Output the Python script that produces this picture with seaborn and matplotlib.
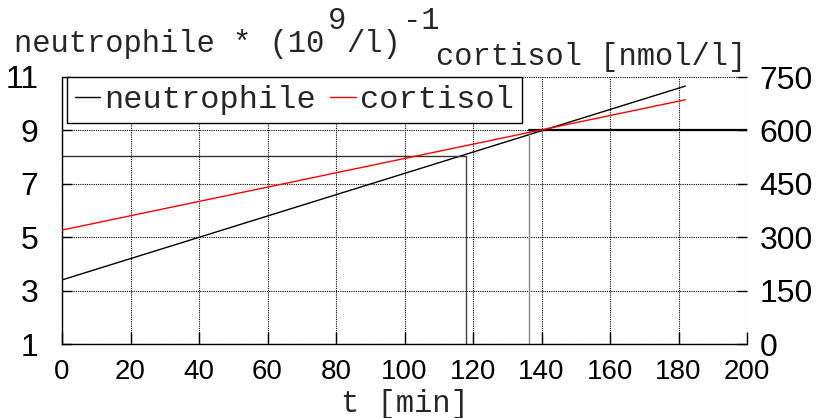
import matplotlib
matplotlib.use("Agg")
import matplotlib.pyplot as plt
import seaborn as sns
import pandas as pd

# --- data -------------------------------------------------------------
t_min = [0, 182]                 # time [min]
neutrophile = [3.4, 10.66]       # neutrophile * (10^9/l)^-1
cortisol = [320, 686]            # cortisol [nmol/l]

x_ticks = [0, 20, 40, 60, 80, 100, 120, 140, 160, 180, 200]
left_ticks = [1, 3, 5, 7, 9, 11]
right_ticks = [0, 150, 300, 450, 600, 750]

# reading lines
read1_t, read1_n = 117.9, 8.05     # neutrophile read-off
read2_t, read2_n = 136.4, 9.0      # cortisol read-off (600 nmol/l)

df = pd.DataFrame({"t": t_min, "neutrophile": neutrophile, "cortisol": cortisol})

sns.set_style("white")
plt.rcParams["font.family"] = ["Liberation Mono", "DejaVu Sans Mono"]

W, H = 817, 418
fig = plt.figure(figsize=(W / 100, H / 100), dpi=100)
ax = fig.add_axes([62 / W, (H - 344) / H, 685 / W, 267 / H])
ax2 = ax.twinx()

grid_kw = dict(color="black", lw=0.8, ls=(0, (1, 1)))
ax.set_xlim(0, 200)
ax.set_ylim(1, 11)
ax2.set_ylim(0, 750)
ax.set_xticks(x_ticks)
ax.set_yticks(left_ticks)
ax2.set_yticks(right_ticks)
ax.grid(True, **grid_kw)
ax2.grid(False)

sns.lineplot(data=df, x="t", y="neutrophile", ax=ax, color="black", lw=1.0,
             label="neutrophile", legend=False)
sns.lineplot(data=df, x="t", y="cortisol", ax=ax2, color="red", lw=1.0,
             label="cortisol", legend=False)

# read-off lines
ax.plot([0, read1_t], [read1_n, read1_n], color="#333333", lw=1.0)
ax.plot([read1_t, read1_t], [1, read1_n], color="#444444", lw=1.0)
ax.plot([read2_t, read2_t], [1, read2_n], color="#888888", lw=1.0)
ax.plot([read2_t, 200], [read2_n, read2_n], color="black", lw=1.6)

for a in (ax, ax2):
    for s in ("top", "right", "left", "bottom"):
        a.spines[s].set_visible(False)
for s in ("left", "bottom"):
    ax.spines[s].set_visible(True)
    ax.spines[s].set_color("black")
    ax.spines[s].set_linewidth(1.0)

ax.set_xlabel("t [min]", fontsize=22, labelpad=3)
ax.set_ylabel("")
ax2.set_ylabel("")

ax.tick_params(axis="x", direction="in", length=9, width=1, pad=11,
               bottom=True, colors="black")
ax.tick_params(axis="y", direction="in", length=7, width=1, pad=17,
               left=True, colors="black")
ax2.tick_params(axis="y", direction="in", length=7, width=1, pad=9,
                right=True, colors="black")
for lab in ax.get_xticklabels():
    lab.set_family(["Liberation Sans Narrow", "Liberation Sans", "DejaVu Sans"])
    lab.set_fontsize(20)
for lab in ax.get_yticklabels() + ax2.get_yticklabels():
    lab.set_family(["Liberation Sans", "DejaVu Sans"])
    lab.set_fontsize(23)

h1, l1 = ax.get_legend_handles_labels()
h2, l2 = ax2.get_legend_handles_labels()
leg = ax2.legend(h1 + h2, l1 + l2, loc="upper left", bbox_to_anchor=(0.007, 1.0),
                 ncol=2, fontsize=23, frameon=True, fancybox=False,
                 handlelength=0.8, handletextpad=0.12, columnspacing=0.45,
                 borderpad=0.25, borderaxespad=0)
leg.get_frame().set_edgecolor("black")
leg.get_frame().set_linewidth(1.0)
leg.get_frame().set_alpha(1)

# axis titles
def fx(px):
    return px / W

def fy(py):
    return 1 - py / H

fs = 22
fig.text(fx(14), fy(52), "neutrophile * (10", fontsize=fs, va="baseline")
fig.text(fx(328), fy(29), "9", fontsize=fs, va="baseline")
fig.text(fx(346), fy(52), "/l)", fontsize=fs, va="baseline")
fig.text(fx(403), fy(29), "-1", fontsize=fs, va="baseline")
fig.text(fx(436), fy(65), "cortisol [nmol/l]", fontsize=fs, va="baseline")

fig.savefig("out.png", dpi=100)
